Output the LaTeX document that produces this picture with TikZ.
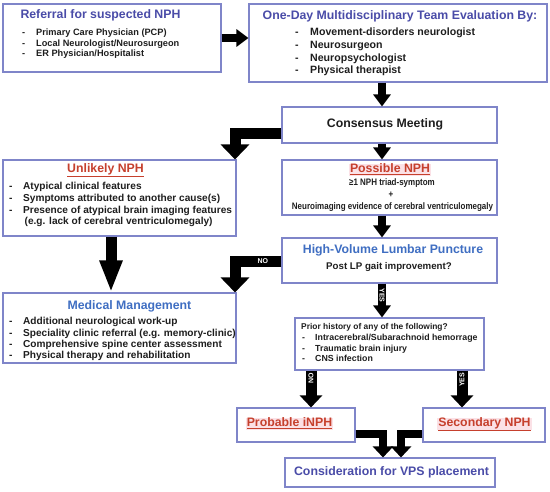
\documentclass[tikz,border=0pt]{standalone}
\usepackage{fontspec}
\setmainfont{Liberation Sans}
\newfontfamily\narrowsans[FakeStretch=0.85]{Liberation Sans}
\usetikzlibrary{arrows.meta}

\definecolor{boxline}{HTML}{7F85C9}
\definecolor{ink}{HTML}{1E1E1E}
\definecolor{indigo}{HTML}{4A4CA8}
\definecolor{skyblue}{HTML}{3F6EC2}
\definecolor{alert}{HTML}{C6402D}
\definecolor{blush}{HTML}{FBE1E6}

\tikzset{
    box/.style      = {draw=boxline, line width=1.1pt, fill=white, inner sep=0pt},
    title/.style    = {inner sep=0pt, font=\bfseries\fontsize{12.3}{14}\selectfont,
                       text height=0.72em, text depth=0.2em},
    item/.style     = {inner sep=0pt, anchor=west, text=ink,
                       font=\bfseries\fontsize{#1}{12}\selectfont,
                       text height=0.72em, text depth=0.2em},
    item/.default   = 9.2,
    thin/.style     = {inner sep=0pt, text=ink, font=\narrowsans\bfseries\fontsize{9.4}{11}\selectfont},
    yesno/.style    = {inner sep=0pt, text=white, font=\bfseries\fontsize{7}{8}\selectfont},
    bigarrow/.style = {line width=8pt, -{Triangle[width=17pt,length=12pt]}},
    longarrow/.style= {line width=11pt, -{Triangle[width=21pt,length=32pt]}},
    elbow/.style    = {line width=11pt, line join=miter, -{Triangle[width=28pt,length=15pt]}},
    lowarrow/.style = {line width=11pt, -{Triangle[width=22pt,length=12pt]}},
    mergearrow/.style = {line width=8pt, line join=miter, -{Triangle[width=20pt,length=11pt]}}
}

\begin{document}
\begin{tikzpicture}[x=1pt,y=-1pt]
    \useasboundingbox (0,0) rectangle (550,491);

    % boxes
    \node[box, minimum width=218pt, minimum height=68pt] (ref)       at (112,   38)   {};
    \node[box, minimum width=298pt, minimum height=78pt] (team)      at (398,   43)   {};
    \node[box, minimum width=215pt, minimum height=36pt] (consensus) at (389.5, 125)  {};
    \node[box, minimum width=215pt, minimum height=55pt] (possible)  at (389.5, 187.5){};
    \node[box, minimum width=233pt, minimum height=76pt] (unlikely)  at (119.5, 198)  {};
    \node[box, minimum width=215pt, minimum height=45pt] (lp)        at (389.5, 260.5){};
    \node[box, minimum width=233pt, minimum height=70pt] (medical)   at (119.5, 328)  {};
    \node[box, minimum width=189pt, minimum height=52pt] (prior)     at (389.5, 344)  {};
    \node[box, minimum width=118pt, minimum height=34pt] (probable)  at (296,   425)  {};
    \node[box, minimum width=122pt, minimum height=34pt] (secondary) at (484,   425)  {};
    \node[box, minimum width=210pt, minimum height=29pt] (vps)       at (390,   472.5){};

    % texts
    \node[title, text=indigo] (ref-t) at (100.5, 16) {Referral for suspected NPH};
    \foreach \t [count=\i] in {Primary Care Physician (PCP), Local Neurologist/Neurosurgeon, ER Physician/Hospitalist}
        \node[item] (ref-\i) at (22, 22.5+10.5*\i) {\makebox[14pt][l]{-}\t};

    \node[title, text=indigo] (team-t) at (400, 17) {One-Day Multidisciplinary Team Evaluation By:};
    \foreach \t [count=\i] in {Movement-disorders neurologist, Neurosurgeon, Neuropsychologist, Physical therapist}
        \node[item=10.6] (team-\i) at (295, 20.3+12.7*\i) {\makebox[15pt][l]{-}\t};

    \node[title, text=ink] (consensus-t) at (385, 125) {Consensus Meeting};

    \node[title, text=alert, fill=blush, inner sep=1pt] (possible-t) at (390, 170) {\underline{Possible NPH}};
    \node[thin] (possible-1) at (392, 183) {≥1 NPH triad-symptom};
    \node[thin] (possible-2) at (391, 195) {+};
    \node[thin] (possible-3) at (392.5, 207) {Neuroimaging evidence of cerebral ventriculomegaly};

    \node[title, text=alert] (unlikely-t) at (105.5, 170) {\underline{Unlikely NPH}};
    \foreach \t [count=\i] in {Atypical clinical features, Symptoms attributed to another cause(s), Presence of atypical brain imaging features}
        \node[item=10.1] (unlikely-\i) at (9, 175.3+11.7*\i) {\makebox[14pt][l]{-}\t};
    \node[item=10.1] (unlikely-4) at (24.5, 222) {(e.g. lack of cerebral ventriculomegaly)};

    \node[title, text=skyblue] (lp-t) at (393, 251) {High-Volume Lumbar Puncture};
    \node[title, text=ink, font=\bfseries\fontsize{9.7}{11}\selectfont] (lp-q) at (389, 267) {Post LP gait improvement?};

    \node[title, text=skyblue] (medical-t) at (129.5, 307) {Medical Management};
    \foreach \t [count=\i] in {Additional neurological work-up, Speciality clinic referral (e.g. memory-clinic), Comprehensive spine center assessment, Physical therapy and rehabilitation}
        \node[item=10.1] (medical-\i) at (9, 310.6+11.4*\i) {\makebox[14pt][l]{-}\t};

    \node[item=8.4] (prior-q) at (301, 327) {Prior history of any of the following?};
    \foreach \t [count=\i] in {Intracerebral/Subarachnoid hemorrage, Traumatic brain injury, CNS infection}
        \node[item=8.8] (prior-\i) at (302, 327.5+10.5*\i) {\makebox[13pt][l]{-}\t};

    \node[title, text=alert, fill=blush, inner sep=1pt] (probable-t)  at (289.5, 424) {\underline{Probable iNPH}};
    \node[title, text=alert, fill=blush, inner sep=1pt] (secondary-t) at (484.5, 424) {\underline{Secondary NPH}};
    \node[title, text=indigo] (vps-t) at (391.5, 473) {Consideration for VPS placement};

    % connectors
    \coordinate (spine) at (382, 0);
    \coordinate (bendA) at (235, 133);
    \coordinate (bendB) at (235, 261);
    \coordinate (lowL)  at (311, 0);
    \coordinate (lowR)  at (462, 0);
    \coordinate (mergeL) at (383, 434);
    \coordinate (mergeR) at (401, 434);

    \draw[bigarrow] (ref.east) -- (ref.east -| team.west);
    \draw[bigarrow] (spine |- team.south) -- (spine |- consensus.north);
    \draw[bigarrow] (spine |- consensus.south) -- (spine |- possible.north);
    \draw[bigarrow] (spine |- possible.south) -- (spine |- lp.north);
    \draw[elbow] (bendA -| consensus.west) -| (bendA |- unlikely.north);
    \draw[longarrow] (unlikely.south -| 111,0) -- (medical.north -| 111,0);
    \draw[elbow] (bendB -| lp.west) -| node[yesno, pos=0.2] {NO} (bendB |- medical.north);
    \draw[bigarrow] (spine |- lp.south) -- node[yesno, pos=0.35, rotate=-90] {YES} (spine |- prior.north);
    \draw[lowarrow] (lowL |- prior.south) -- node[yesno, pos=0.22, rotate=90] {NO} (lowL |- probable.north);
    \draw[lowarrow] (lowR |- prior.south) -- node[yesno, pos=0.25, rotate=90] {YES} (lowR |- secondary.north);
    \draw[mergearrow] (mergeL -| probable.east) -| (mergeL |- vps.north);
    \draw[mergearrow] (mergeR -| secondary.west) -| (mergeR |- vps.north);
\end{tikzpicture}
\end{document}
